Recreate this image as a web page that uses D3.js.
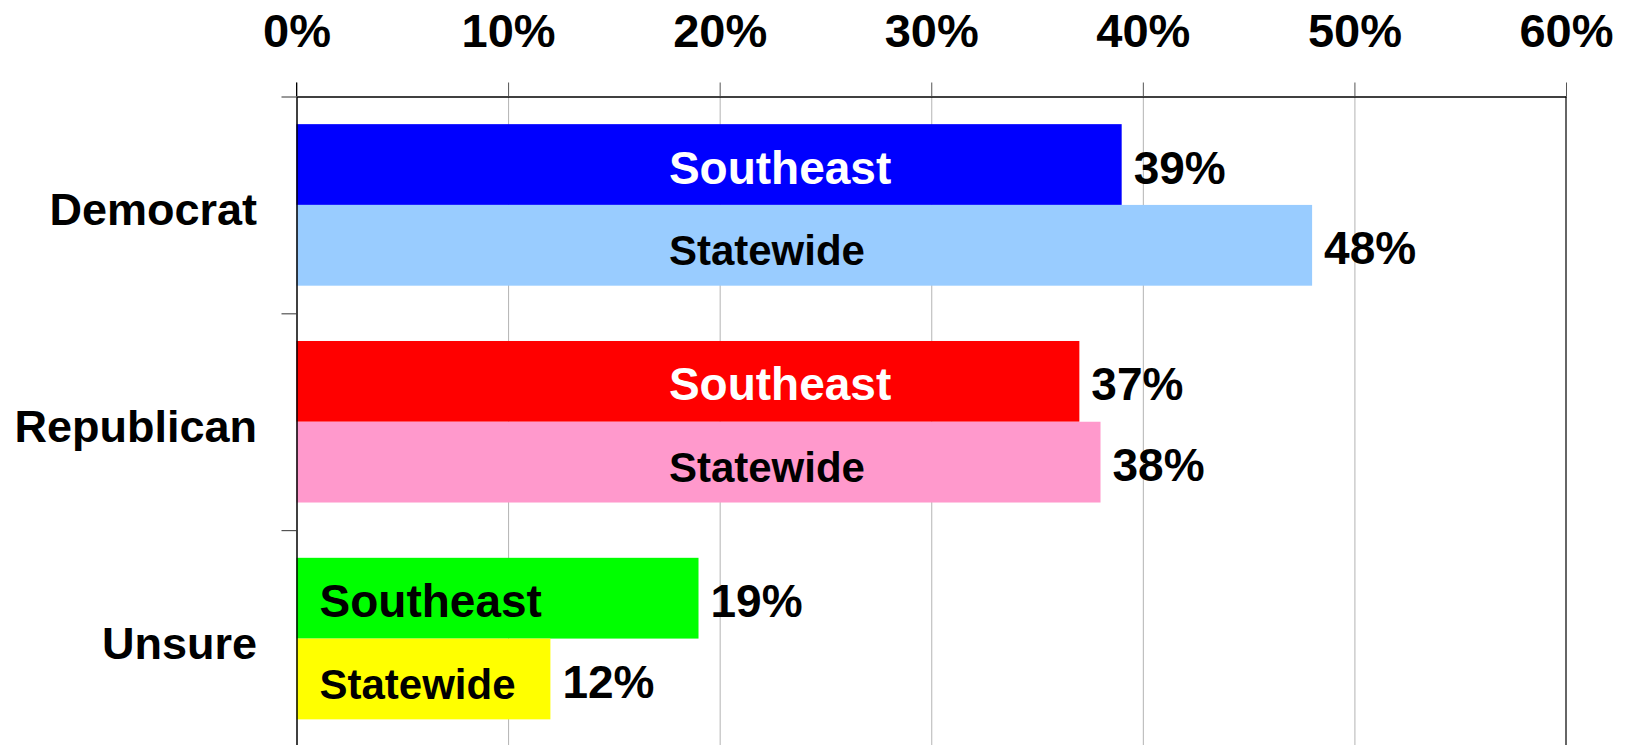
<!DOCTYPE html>
<html lang="en">

<head>
  <meta charset="UTF-8">
  <title>Party ID</title>
  <script src="https://cdn.jsdelivr.net/npm/d3@7/dist/d3.min.js"></script>
  <style>
    html,
    body {
      margin: 0;
      background: #fff;
    }

    svg text {
      font-family: 'Liberation Sans', Arial, sans-serif;
      font-weight: bold;
      fill: #000;
    }
  </style>
</head>

<body>
  <script>
    // canvas size
    const width = 1626
    const height = 745

    // data
    const categories = ['Democrat', 'Republican', 'Unsure']
    const seriesNames = ['Southeast', 'Statewide']
    const southeast = [39, 37, 19]
    const statewide = [48, 38, 12]
    const tickValues = [0, 10, 20, 30, 40, 50, 60]

    // colours per category
    const southeastColors = ['#0000ff', '#ff0000', '#00ff00']
    const statewideColors = ['#99ccff', '#ff99cc', '#ffff00']
    const southeastTextColors = ['#fff', '#fff', '#000']

    const rows = []
    categories.forEach((c, i) => {
      rows.push({ cat: c, series: seriesNames[0], value: southeast[i], color: southeastColors[i], text: southeastTextColors[i] })
      rows.push({ cat: c, series: seriesNames[1], value: statewide[i], color: statewideColors[i], text: '#000' })
    })

    const margin = { left: 296.5, right: 60, top: 96.5, bottom: -2 }

    const svg = d3.select('body').append('svg')
      .attr('width', width)
      .attr('height', height)

    // scales
    const x = d3.scaleLinear()
      .domain([0, 60])
      .range([margin.left, width - margin.right])

    const y = d3.scaleBand()
      .domain(categories)
      .range([margin.top, height - margin.bottom])
      .paddingInner(0.255)
      .paddingOuter(0.1275)

    const ySub = d3.scaleBand()
      .domain(seriesNames)
      .range([0, y.bandwidth()])

    // category edges for left ticks
    const yEdge = d3.scaleLinear()
      .domain([0, categories.length])
      .range([margin.top, height - margin.bottom])

    // grid lines
    svg.append('g')
      .attr('transform', `translate(0, ${margin.top})`)
      .call(d3.axisTop(x).tickValues(tickValues.slice(1, -1)).tickSize(-(height - margin.top)).tickFormat(''))
      .call(g => g.select('.domain').remove())
      .call(g => g.selectAll('line').attr('stroke', '#b4b4b4').attr('stroke-width', 1))

    // right border
    svg.append('line')
      .attr('x1', x(60)).attr('x2', x(60))
      .attr('y1', margin.top).attr('y2', height)
      .attr('stroke', '#666').attr('stroke-width', 2)

    // bars
    svg.selectAll('.bar')
      .data(rows)
      .enter()
      .append('rect')
      .attr('class', 'bar')
      .attr('x', x(0))
      .attr('y', d => y(d.cat) + ySub(d.series))
      .attr('width', d => x(d.value) - x(0))
      .attr('height', ySub.bandwidth())
      .attr('fill', d => d.color)

    // top axis
    svg.append('g')
      .attr('transform', `translate(0, ${margin.top})`)
      .call(d3.axisTop(x).tickValues(tickValues).tickSize(14).tickSizeOuter(0).tickPadding(36).tickFormat(d => d + '%'))
      .call(g => g.select('.domain').attr('stroke', '#000').attr('stroke-width', 1.5))
      .call(g => g.selectAll('.tick line').attr('stroke', '#555'))
      .call(g => g.selectAll('.tick text').attr('font-size', 47).attr('fill', '#000'))

    // left axis
    svg.append('g')
      .attr('transform', `translate(${margin.left}, 0)`)
      .call(d3.axisLeft(yEdge).tickValues(d3.range(categories.length + 1)).tickSize(15).tickSizeOuter(0).tickFormat(''))
      .call(g => g.select('.domain').attr('stroke', '#000').attr('stroke-width', 1.5))
      .call(g => g.selectAll('.tick line').attr('stroke', '#333'))

    // top-left corner tick
    svg.append('line')
      .attr('x1', x(0)).attr('x2', x(0))
      .attr('y1', margin.top - 14).attr('y2', margin.top)
      .attr('stroke', '#000')

    // category labels
    svg.selectAll('.catLabel')
      .data(categories)
      .enter()
      .append('text')
      .attr('class', 'catLabel')
      .attr('x', 257)
      .attr('y', d => y(d) + y.bandwidth() / 2 + 20)
      .attr('text-anchor', 'end')
      .attr('font-size', 45)
      .text(d => d)

    // series labels inside bars
    svg.selectAll('.seriesLabel')
      .data(rows)
      .enter()
      .append('text')
      .attr('class', 'seriesLabel')
      .attr('x', d => d.value >= 25 ? x(17.6) : x(0) + 23)
      .attr('y', d => y(d.cat) + ySub(d.series) + ySub.bandwidth() / 2 + (d.series === 'Southeast' ? 19 : 20))
      .attr('font-size', d => d.series === 'Southeast' ? 46 : 42)
      .style('fill', d => d.text)
      .text(d => d.series)

    // value labels
    svg.selectAll('.valueLabel')
      .data(rows)
      .enter()
      .append('text')
      .attr('class', 'valueLabel')
      .attr('x', d => x(d.value) + 12)
      .attr('y', d => y(d.cat) + ySub(d.series) + ySub.bandwidth() / 2 + 19)
      .attr('font-size', 46)
      .text(d => d.value + '%')
  </script>
</body>

</html>
